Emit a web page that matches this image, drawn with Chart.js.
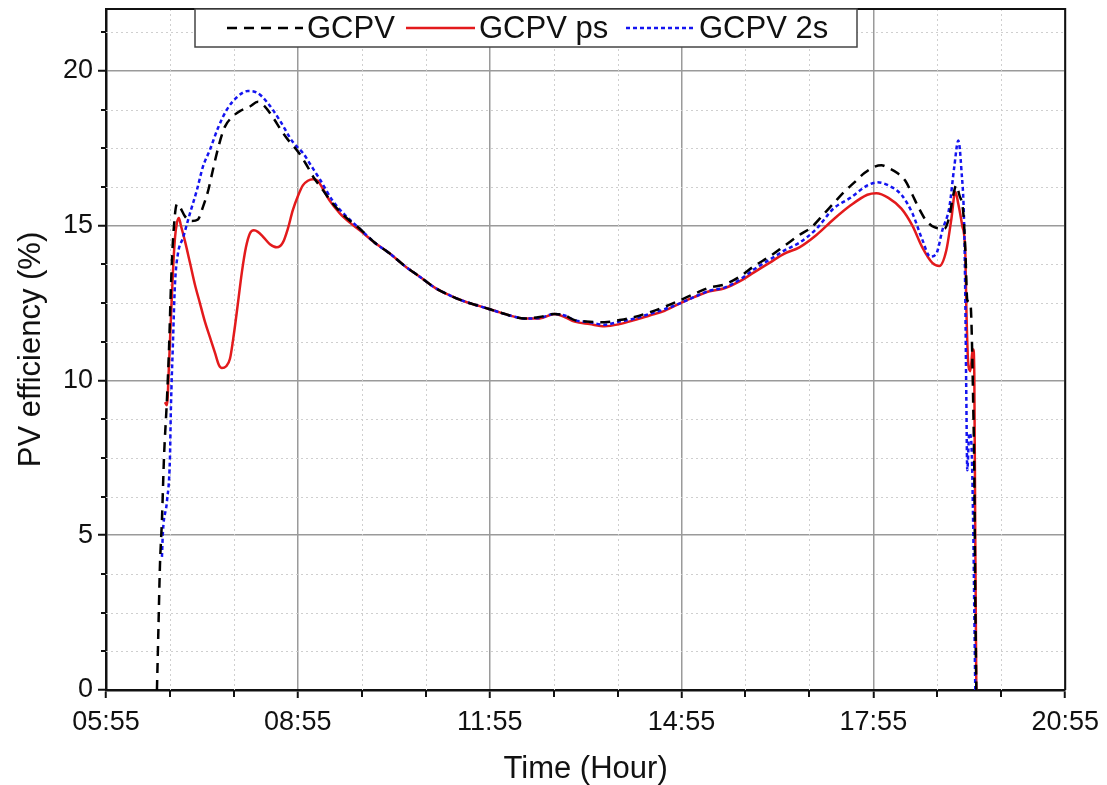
<!DOCTYPE html>
<html>
<head>
<meta charset="utf-8">
<script src="https://cdn.jsdelivr.net/npm/chart.js@4.4.0/dist/chart.umd.min.js"></script>
<style>
html,body{margin:0;padding:0;background:#fff;}
#wrap{width:1107px;height:785px;position:relative;}
</style>
</head>
<body>
<div id="wrap"><canvas id="c" width="1107" height="785"></canvas></div>
<script>
// Time in minutes since midnight, efficiency in %
const gcpvTime = [402.8,404.2,405.6,407.5,409.4,412.2,414.1,415.9,417.8,421.6,424.4,429.1,435.6,441.3,445.9,450.6,455.3,460.9,466.6,473.1,480.6,490,497.5,504.1,511.6,520,527.5,535,542.5,550,557.5,566.9,579.1,593.1,607.2,621.3,635.3,649.4,663.4,677.5,691.6,705.6,719.7,733.8,747.8,761.9,775.9,785.3,794.7,808.8,822.8,836.9,850.9,865,879.1,894.1,907.2,921.3,935.3,949.4,963.4,977.5,991.6,1005.6,1016.9,1029.1,1038.4,1047.8,1057.2,1066.6,1075.9,1082.5,1090,1097.5,1105,1111.6,1117.2,1123.8,1132.2,1141.6,1146.3,1150,1152.8,1155.6,1159.4,1161.3,1163.1,1165.9,1166.9,1168.8,1169.7,1170.6,1171.6];
const gcpvEff = [0,2,4,5.5,7.5,9.4,11,13,14.5,15.7,15.6,15.3,15.15,15.2,15.6,16.1,16.8,17.6,18.2,18.5,18.7,18.85,19.0,18.85,18.5,18.05,17.7,17.4,17.0,16.55,16.2,15.75,15.3,14.9,14.45,14.1,13.7,13.35,13.0,12.75,12.55,12.4,12.25,12.1,12.0,12.05,12.15,12.1,11.95,11.9,11.88,11.95,12.05,12.2,12.38,12.6,12.8,13.0,13.1,13.35,13.7,14.0,14.35,14.7,14.95,15.4,15.75,16.1,16.4,16.7,16.9,16.95,16.85,16.7,16.45,16.0,15.6,15.2,14.95,14.9,15.3,16.0,16.3,16.0,15.4,14.2,12.6,12.5,12.0,9.0,7.0,3.0,0];

const psTime = [410.3,412.2,414.1,415.9,417.8,419.7,421.6,423.4,425.3,429.1,433.8,438.4,443.1,447.8,452.5,457.2,460.9,463.8,467.5,471.3,475,478.8,482.5,486.3,490,493.8,497.5,502.2,508.8,515.3,520.9,525.6,530.3,535,539.7,544.4,549.1,553.8,558.4,565,574.4,583.8,593.1,607.2,621.3,635.3,649.4,663.4,677.5,691.6,705.6,719.7,733.8,747.8,761.9,775.9,785.3,794.7,808.8,822.8,836.9,850.9,865,879.1,894.1,907.2,921.3,935.3,949.4,963.4,977.5,991.6,1005.6,1021.6,1037.5,1053.4,1069.4,1077.8,1089.1,1101.3,1111.6,1120.9,1130.3,1136.9,1143.4,1148.1,1151.9,1154.7,1158.4,1161.3,1162.2,1164.1,1165.9,1167.8,1168.8,1169.7,1170.6,1171.6];
const psEff = [9.3,9.2,10.5,12.0,13.5,14.6,15.1,15.25,15.0,14.5,13.8,13.1,12.5,11.9,11.4,10.9,10.5,10.4,10.45,10.7,11.5,12.5,13.5,14.3,14.75,14.85,14.8,14.65,14.4,14.3,14.45,14.9,15.5,15.95,16.3,16.45,16.5,16.45,16.2,15.8,15.4,15.1,14.85,14.45,14.1,13.7,13.35,13.0,12.75,12.55,12.4,12.25,12.1,12.0,12.0,12.15,12.05,11.9,11.82,11.75,11.82,11.95,12.1,12.25,12.5,12.7,12.88,12.98,13.2,13.5,13.8,14.1,14.3,14.7,15.2,15.65,16.0,16.05,15.9,15.55,15.0,14.3,13.8,13.7,14.2,15.2,16.1,15.7,15.0,14.1,12.4,10.5,10.3,10.9,11.0,10.2,5,0];

const s2Time = [407.5,408.4,412.2,415,415.9,417.8,419.7,422.5,427.2,433.8,440.3,445.9,452.5,460,468.4,477.8,488.1,496.6,505.9,518.1,530.3,539.7,549.1,555.6,567.8,579.1,593.1,607.2,621.3,635.3,649.4,663.4,677.5,691.6,705.6,719.7,733.8,747.8,761.9,775.9,785.3,794.7,808.8,822.8,836.9,850.9,865,879.1,894.1,907.2,921.3,935.3,949.4,963.4,977.5,991.6,1005.6,1021.6,1037.5,1053.4,1069.4,1078.8,1089.1,1101.3,1111.6,1120.9,1128.4,1134.1,1139.7,1146.3,1150.9,1154.7,1157.5,1160.3,1161.3,1162.2,1163.1,1165,1166.9,1168.8,1169.7,1170.6];
const s2Eff = [4.3,5.1,6.1,7.5,9.1,11.2,13.1,14.1,14.6,15.4,16.15,16.9,17.45,18.15,18.75,19.15,19.35,19.3,19.0,18.4,17.7,17.35,16.85,16.5,15.8,15.35,14.9,14.45,14.1,13.7,13.35,13.0,12.75,12.55,12.4,12.25,12.1,12.0,12.02,12.15,12.1,11.95,11.88,11.8,11.9,12.0,12.15,12.3,12.5,12.7,12.9,13.0,13.25,13.6,13.9,14.2,14.45,14.9,15.55,15.9,16.3,16.4,16.3,16.0,15.4,14.55,14.0,14.1,14.85,15.6,16.9,17.75,16.85,14.85,12.5,9.5,7.1,8.3,8.0,5,2.5,0];

const seriesLabels = ['GCPV', 'GCPV ps', 'GCPV 2s'];
const xTickLabels = ['05:55', '08:55', '11:55', '14:55', '17:55', '20:55'];
const yTickLabels = ['0', '5', '10', '15', '20'];

const FONT = '"Liberation Sans", Arial, Helvetica, sans-serif';
const toPts = (t, v) => t.map((x, i) => ({x: x, y: v[i]}));

const decor = {
  id: 'decor',
  beforeDatasetsDraw(chart) {
    const {ctx, chartArea: a, scales: {x, y}} = chart;
    ctx.save();
    ctx.strokeStyle = '#cfcfcf';
    ctx.lineWidth = 1;
    ctx.setLineDash([2, 3]);
    for (let v = x.min + 60; v < x.max; v += 60) {
      if (Math.abs(((v - x.min) % 180)) < 0.01) continue;
      const px = Math.round(x.getPixelForValue(v)) + 0.5;
      ctx.beginPath(); ctx.moveTo(px, a.top); ctx.lineTo(px, a.bottom); ctx.stroke();
    }
    for (let v = 1.25; v < y.max; v += 1.25) {
      if (Math.abs(v % 5) < 0.01) continue;
      const py = Math.round(y.getPixelForValue(v)) + 0.5;
      ctx.beginPath(); ctx.moveTo(a.left, py); ctx.lineTo(a.right, py); ctx.stroke();
    }
    ctx.restore();
  },
  afterDraw(chart) {
    const {ctx, chartArea: a, scales: {x, y}} = chart;
    ctx.save();
    // frame top / right
    ctx.strokeStyle = '#111';
    ctx.lineWidth = 2;
    ctx.beginPath();
    ctx.moveTo(a.left, a.top); ctx.lineTo(a.right, a.top); ctx.lineTo(a.right, a.bottom);
    ctx.stroke();
    // minor ticks
    ctx.lineWidth = 2;
    for (let v = x.min + 60; v < x.max; v += 60) {
      if (Math.abs(((v - x.min) % 180)) < 0.01) continue;
      const px = Math.round(x.getPixelForValue(v));
      ctx.beginPath(); ctx.moveTo(px, a.bottom); ctx.lineTo(px, a.bottom + 7); ctx.stroke();
    }
    for (let v = 1.25; v < y.max; v += 1.25) {
      if (Math.abs(v % 5) < 0.01) continue;
      const py = Math.round(y.getPixelForValue(v));
      ctx.beginPath(); ctx.moveTo(a.left - 5, py); ctx.lineTo(a.left, py); ctx.stroke();
    }
    // legend
    const box = {l: 195, t: 9, r: 857, b: 47};
    ctx.setLineDash([]);
    ctx.fillStyle = '#fff';
    ctx.fillRect(box.l, box.t, box.r - box.l, box.b - box.t);
    ctx.strokeStyle = '#444';
    ctx.lineWidth = 1.5;
    ctx.strokeRect(box.l, box.t, box.r - box.l, box.b - box.t);
    const cy = 28;
    const slots = [[227, 303, 307], [406, 475, 479], [626, 694, 699]];
    ctx.font = '31px ' + FONT;
    ctx.textBaseline = 'middle';
    ctx.textAlign = 'left';
    chart.data.datasets.forEach((ds, i) => {
      const s = slots[i];
      ctx.save();
      ctx.strokeStyle = ds.borderColor;
      ctx.lineWidth = ds.borderWidth;
      ctx.setLineDash(ds.borderDash || []);
      ctx.beginPath(); ctx.moveTo(s[0], cy); ctx.lineTo(s[1], cy); ctx.stroke();
      ctx.restore();
      ctx.fillStyle = '#111';
      ctx.fillText(ds.label, s[2], cy + 1);
    });
    ctx.restore();
  }
};

new Chart(document.getElementById('c'), {
  type: 'line',
  data: {
    datasets: [
      {label: seriesLabels[0], data: toPts(gcpvTime, gcpvEff), borderColor: '#000000', borderWidth: 2.5, borderDash: [10, 7], order: 0},
      {label: seriesLabels[1], data: toPts(psTime, psEff), borderColor: '#e31a1c', borderWidth: 2.5, order: 2},
      {label: seriesLabels[2], data: toPts(s2Time, s2Eff), borderColor: '#1414f0', borderWidth: 2.5, borderDash: [4, 3], order: 1}
    ]
  },
  options: {
    responsive: false,
    animation: false,
    devicePixelRatio: 1,
    layout: {padding: {left: 0, right: 39, top: 9, bottom: 0}},
    elements: {
      point: {radius: 0},
      line: {cubicInterpolationMode: 'monotone', borderCapStyle: 'butt', borderJoinStyle: 'round'}
    },
    plugins: {legend: {display: false}, tooltip: {enabled: false}},
    scales: {
      x: {
        type: 'linear',
        min: 355, max: 1255,
        afterFit: s => { s.height = 95; },
        ticks: {
          stepSize: 180,
          autoSkip: false,
          maxRotation: 0,
          padding: 8,
          color: '#111',
          font: {family: FONT, size: 27},
          callback: (v, i) => xTickLabels[i]
        },
        grid: {color: '#9a9a9a', lineWidth: 1.5, tickColor: '#111', tickLength: 8, tickWidth: 2},
        border: {color: '#111', width: 2.5},
        title: {display: true, text: 'Time (Hour)', color: '#111', font: {family: FONT, size: 31}, padding: {top: 0, bottom: -3}}
      },
      y: {
        type: 'linear',
        min: 0, max: 22,
        afterFit: s => { s.width = 106; s.paddingTop = 0; s.paddingBottom = 0; },
        ticks: {
          stepSize: 5,
          includeBounds: false,
          padding: 5,
          color: '#111',
          font: {family: FONT, size: 27},
          callback: (v, i) => yTickLabels[i]
        },
        grid: {color: '#9a9a9a', lineWidth: 1.5, tickColor: '#111', tickLength: 8, tickWidth: 2},
        border: {color: '#111', width: 2.5},
        title: {display: true, text: 'PV efficiency (%)', color: '#111', font: {family: FONT, size: 31}, padding: {top: 13, bottom: 0}}
      }
    }
  },
  plugins: [decor]
});
</script>
</body>
</html>
